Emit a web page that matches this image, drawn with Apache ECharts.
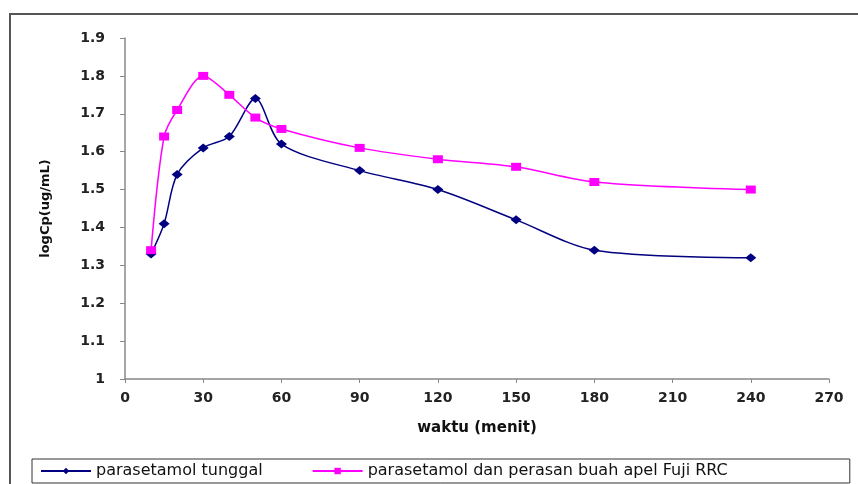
<!DOCTYPE html>
<html>
<head>
<meta charset="utf-8">
<script src="https://cdn.jsdelivr.net/npm/echarts@6/dist/echarts.min.js"></script>
<style>html,body{margin:0;padding:0;background:#fff}#c{width:858px;height:484px}</style>
</head>
<body>
<div id="c"></div>
<script>
var times = [10, 15, 20, 30, 40, 50, 60, 90, 120, 150, 180, 240];
var tunggal = [1.33, 1.41, 1.54, 1.61, 1.64, 1.74, 1.62, 1.55, 1.50, 1.42, 1.34, 1.32];
var apel = [1.34, 1.64, 1.71, 1.80, 1.75, 1.69, 1.66, 1.61, 1.58, 1.56, 1.52, 1.50];
var seriesNames = ['parasetamol tunggal', 'parasetamol dan perasan buah apel Fuji RRC'];
var xTitle = 'waktu (menit)';
var yTitle = 'logCp(ug/mL)';

function pairs(xs, ys){ return xs.map(function(x,i){ return [x, ys[i]]; }); }

var chart = echarts.init(document.getElementById('c'), null, {renderer:'canvas'});
var font = 'DejaVu Sans, Liberation Sans, Arial, sans-serif';
chart.setOption({
  animation: false,
  backgroundColor: '#fff',
  graphic: [{
    type: 'rect', shape: {x: 10, y: 14, width: 860, height: 480},
    style: {fill: 'none', stroke: '#555', lineWidth: 2}, silent: true, z: -1
  }],
  grid: {left: 125, right: 29, top: 38, bottom: 105},
  xAxis: {
    type: 'value', min: 0, max: 270, interval: 30,
    name: xTitle, nameLocation: 'middle', nameGap: 42,
    nameTextStyle: {fontFamily: font, fontWeight: 'bold', fontSize: 15, color: '#111'},
    axisLine: {lineStyle: {color: '#888', width: 1.5}},
    axisTick: {show: true, length: 4, lineStyle: {color: '#888'}},
    axisLabel: {fontFamily: font, fontWeight: 'bold', fontSize: 14, color: '#222', margin: 12},
    splitLine: {show: false}
  },
  yAxis: {
    type: 'value', min: 1, max: 1.9, interval: 0.1,
    name: yTitle, nameLocation: 'middle', nameGap: 73, nameRotate: 90,
    nameTextStyle: {fontFamily: font, fontWeight: 'bold', fontSize: 13, color: '#111'},
    axisLine: {show: true, lineStyle: {color: '#888', width: 1.5}},
    axisTick: {show: true, length: 5, lineStyle: {color: '#888'}},
    axisLabel: {fontFamily: font, fontWeight: 'bold', fontSize: 14, color: '#222', margin: 20,
      formatter: function(v){ return Math.abs(v-1) < 1e-9 ? '1' : v.toFixed(1); }},
    splitLine: {show: false}
  },
  legend: {
    bottom: 1, left: 32,
    data: seriesNames,
    borderColor: '#333', borderWidth: 1, borderRadius: 0,
    padding: [4, 122, 4, 8], itemGap: 49, itemWidth: 50, itemHeight: 8,
    textStyle: {fontFamily: font, fontSize: 16, color: '#111'}
  },
  series: [{
    name: seriesNames[0], type: 'line', data: pairs(times, tunggal), smooth: 0.3,
    symbol: 'diamond', symbolSize: [11, 9],
    lineStyle: {color: '#000080', width: 1.5}, itemStyle: {color: '#000080'}
  }, {
    name: seriesNames[1], type: 'line', data: pairs(times, apel), smooth: 0.3,
    symbol: 'rect', symbolSize: [10, 8],
    lineStyle: {color: '#ff00ff', width: 1.5}, itemStyle: {color: '#ff00ff'}
  }]
});
</script>
</body>
</html>
